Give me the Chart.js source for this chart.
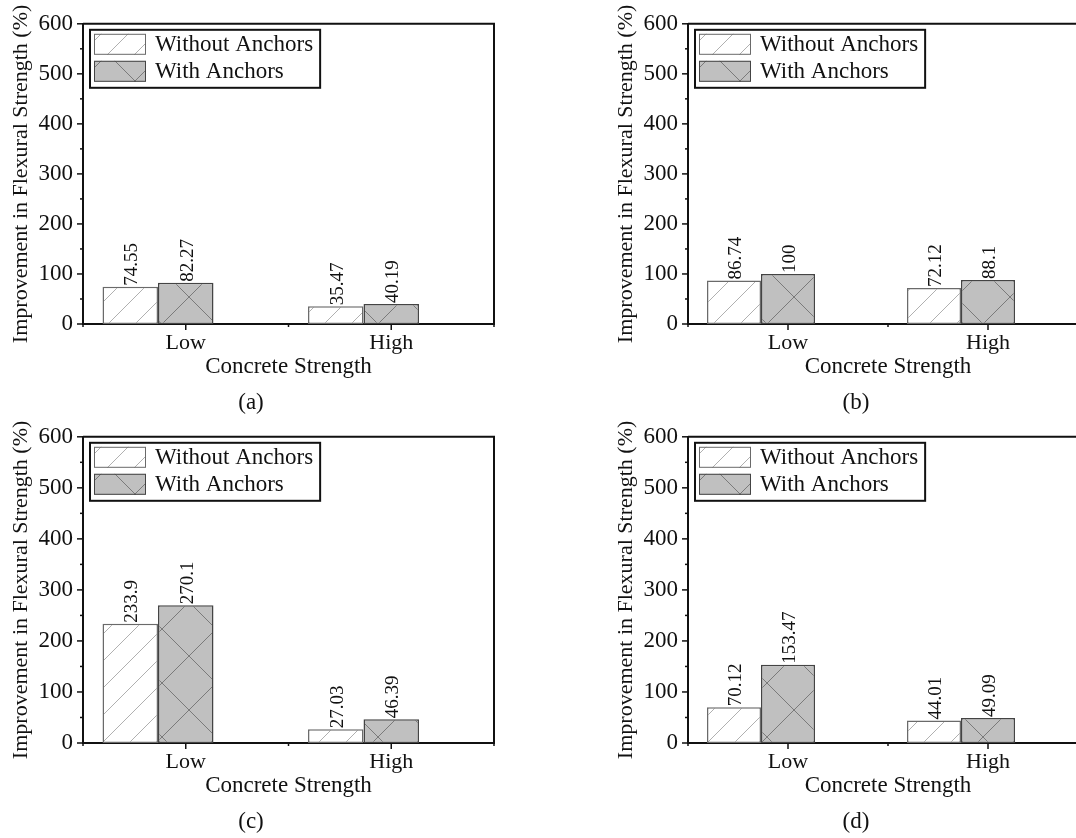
<!DOCTYPE html>
<html>
<head>
<meta charset="utf-8">
<script src="https://cdn.jsdelivr.net/npm/chart.js@4.4.0/dist/chart.umd.min.js"></script>
<style>
  html, body { margin: 0; padding: 0; background: #fff; overflow: hidden; }
  body { width: 1076px; height: 838px; position: relative; }
  canvas { position: absolute; }
</style>
</head>
<body>
<canvas id="chartA" width="538" height="418" style="left:0;top:0"></canvas>
<canvas id="chartB" width="483" height="418" style="left:605px;top:0"></canvas>
<canvas id="chartC" width="538" height="424" style="left:0;top:413px"></canvas>
<canvas id="chartD" width="483" height="424" style="left:605px;top:413px"></canvas>
<script>
// data
const categories = ['Low', 'High'];
const seriesNames = ['Without Anchors', 'With Anchors'];
const panelLabels = ['(a)', '(b)', '(c)', '(d)'];

const withoutA = [74.55, 35.47];
const withA = [82.27, 40.19];
const withoutB = [86.74, 72.12];
const withB = [100, 88.1];
const withoutC = [233.9, 27.03];
const withC = [270.1, 46.39];
const withoutD = [70.12, 44.01];
const withD = [153.47, 49.09];

const yMin = 0;
const yMax = 600;
const yStep = 100;
const yMinorStep = 50;

const FONT = "'Liberation Serif', 'Times New Roman', serif";
const INK = '#111';

// hatch fills like the original (/ lines and crossed lines)
function hatch(bg, fg, size, cross) {
  const c = document.createElement('canvas');
  c.width = c.height = size;
  const g = c.getContext('2d');
  g.fillStyle = bg;
  g.fillRect(0, 0, size, size);
  g.strokeStyle = fg;
  g.lineWidth = 1;
  g.beginPath();
  for (let k = -1; k <= 1; k++) {
    g.moveTo(k * size, size);
    g.lineTo(k * size + size, 0);
    if (cross) {
      g.moveTo(k * size, 0);
      g.lineTo(k * size + size, size);
    }
  }
  g.stroke();
  return g.createPattern(c, 'repeat');
}

const fillWithout = hatch('#ffffff', '#b0b0b0', 27, false);
const fillWith = hatch('#c0c0c0', '#7a7a7a', 54, true);

const framePlugin = {
  id: 'frame',
  afterDraw(chart, args, opts) {
    const { ctx, chartArea: ca } = chart;
    const x = chart.scales.x;
    const y = chart.scales.y;
    ctx.save();

    // top and right frame
    ctx.strokeStyle = INK;
    ctx.lineWidth = 2;
    ctx.beginPath();
    ctx.moveTo(ca.left, ca.top);
    ctx.lineTo(ca.right, ca.top);
    ctx.lineTo(ca.right, ca.bottom);
    ctx.stroke();

    // y ticks, major and minor
    ctx.lineWidth = 1.5;
    for (let v = yMin; v <= yMax; v += yMinorStep) {
      const py = y.getPixelForValue(v);
      const len = v % yStep === 0 ? 6 : 3;
      ctx.beginPath();
      ctx.moveTo(ca.left - len, py);
      ctx.lineTo(ca.left, py);
      ctx.stroke();
    }
    // x ticks at categories and between them
    categories.forEach((c, i) => {
      const px = x.getPixelForValue(i);
      ctx.beginPath();
      ctx.moveTo(px, ca.bottom);
      ctx.lineTo(px, ca.bottom + 6);
      ctx.stroke();
    });
    for (let i = 0; i <= categories.length; i++) {
      const px = x.getPixelForValue(i - 0.5);
      ctx.beginPath();
      ctx.moveTo(px, ca.bottom);
      ctx.lineTo(px, ca.bottom + 3);
      ctx.stroke();
    }

    // value labels, rotated
    ctx.font = '19px ' + FONT;
    ctx.fillStyle = INK;
    ctx.textAlign = 'left';
    ctx.textBaseline = 'middle';
    chart.data.datasets.forEach((ds, di) => {
      if (!ds.label) return;
      chart.getDatasetMeta(di).data.forEach((bar, j) => {
        ctx.save();
        ctx.translate(bar.x + 1, bar.y - 1);
        ctx.rotate(-Math.PI / 2);
        ctx.fillText(String(ds.data[j]), 0, 1);
        ctx.restore();
      });
    });

    // legend box
    const named = chart.data.datasets.filter(d => d.label);
    ctx.font = '23px ' + FONT;
    const tw = Math.max(...named.map(d => ctx.measureText(d.label).width));
    const bx = ca.left + 7;
    const by = ca.top + 6;
    const bw = 65 + tw + 7;
    const bh = 58;
    ctx.fillStyle = '#fff';
    ctx.fillRect(bx, by, bw, bh);
    ctx.lineWidth = 2;
    ctx.strokeStyle = INK;
    ctx.strokeRect(bx, by, bw, bh);
    named.forEach((d, k) => {
      const sy = by + 4 + k * 27;
      ctx.fillStyle = d.backgroundColor;
      ctx.fillRect(bx + 4, sy, 52, 21);
      ctx.lineWidth = 1;
      ctx.strokeStyle = d.borderColor;
      ctx.strokeRect(bx + 4.5, sy + 0.5, 51, 20);
      ctx.fillStyle = INK;
      ctx.textAlign = 'left';
      ctx.textBaseline = 'middle';
      ctx.fillText(d.label, bx + 65, sy + 11);
    });

    // panel label under the chart
    ctx.textAlign = 'center';
    ctx.fillText(opts.label, ca.left + 168, ca.bottom + 79);
    ctx.restore();
  }
};

function makeChart(id, without, withs, label, padRight) {
  new Chart(document.getElementById(id), {
    type: 'bar',
    plugins: [framePlugin],
    data: {
      labels: categories,
      datasets: [
        { label: seriesNames[0], data: without, backgroundColor: fillWithout, borderColor: '#6a6a6a', borderWidth: 1.5, borderSkipped: false },
        { label: seriesNames[1], data: withs, backgroundColor: fillWith, borderColor: '#444', borderWidth: 1.5, borderSkipped: false },
        // empty slot so the second bar sits on the tick, like the original
        { label: '', data: categories.map(() => null) }
      ]
    },
    options: {
      responsive: false,
      animation: false,
      events: [],
      layout: { autoPadding: false, padding: { left: 0, top: 22, right: padRight, bottom: 37 } },
      datasets: { bar: { categoryPercentage: 0.81, barPercentage: 1 } },
      plugins: {
        legend: { display: false },
        tooltip: { enabled: false },
        frame: { label: label }
      },
      scales: {
        x: {
          grid: { display: false, drawTicks: false },
          border: { color: INK, width: 2 },
          ticks: { padding: 6, color: INK, font: { family: FONT, size: 22 } },
          title: { display: true, text: 'Concrete Strength', color: INK, font: { family: FONT, size: 23 }, padding: { top: 0, bottom: 0 } },
          afterFit(s) { s.height = 57; }
        },
        y: {
          min: yMin,
          max: yMax,
          grid: { display: false, drawTicks: false },
          border: { color: INK, width: 2 },
          ticks: { stepSize: yStep, padding: 10, color: INK, font: { family: FONT, size: 23 } },
          title: { display: true, text: 'Improvement in Flexural Strength (%)', color: INK, font: { family: FONT, size: 22 }, padding: { top: 8, bottom: 0 } },
          afterFit(s) { s.width = 83; }
        }
      }
    }
  });
}

makeChart('chartA', withoutA, withA, panelLabels[0], 44);
makeChart('chartB', withoutB, withB, panelLabels[1], 0);
makeChart('chartC', withoutC, withC, panelLabels[2], 44);
makeChart('chartD', withoutD, withD, panelLabels[3], 0);
</script>
</body>
</html>
